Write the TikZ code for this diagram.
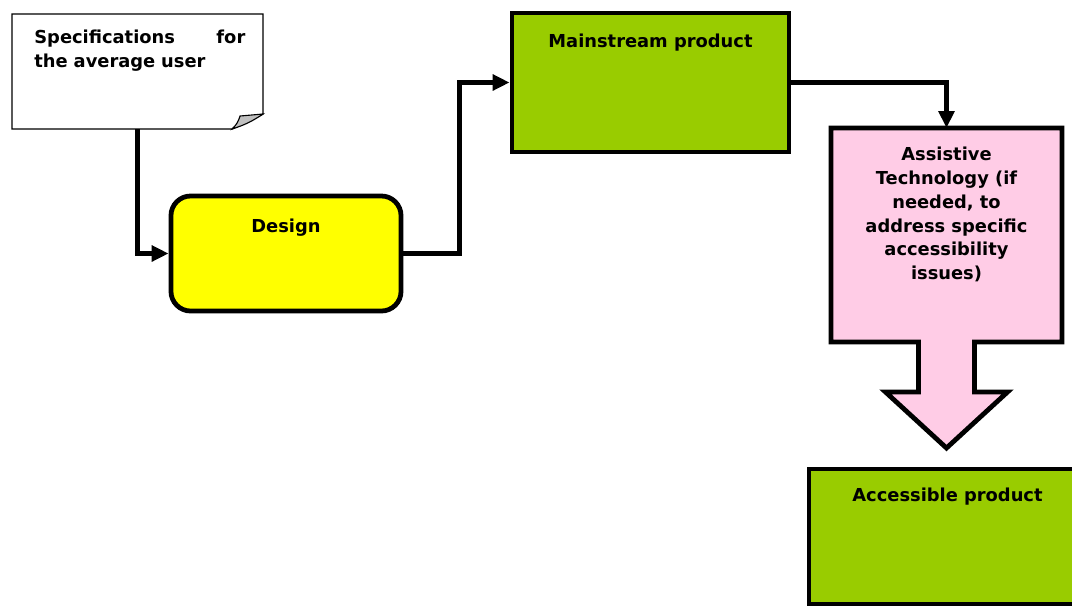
\documentclass[tikz,border=0pt]{standalone}
\usepackage{fontspec}
\setmainfont{DejaVu Sans}
\usetikzlibrary{arrows.meta, calc, backgrounds}

\definecolor{Leaf}{HTML}{99CC00}
\definecolor{Lemon}{HTML}{FFFF00}
\definecolor{Blush}{HTML}{FFCCE6}
\definecolor{Curl}{HTML}{C0C0C0}

\begin{document}
\begin{tikzpicture}[%
        x = 0.025cm,
        y = -0.025cm,
        line width = 3.4pt,
        line join = miter,
        font = \fontsize{12.7}{17}\selectfont\bfseries,
        box/.style = {rectangle, draw, minimum width = 6.925cm},
        box_text/.style = {anchor = base, inner sep = 0pt, yshift = -26pt},
        link/.style = {-{Triangle[length = 12pt, width = 11pt]}}
    ]
        \clip (0, 0) rectangle (1072, 606);

        % Coordinates for the centres of the boxes.
        \coordinate (Spec_Center) at (137.5, 71.5);
        \coordinate (Design_Center) at (286.0, 253.5);
        \coordinate (Main_Center) at (650.5, 82.5);
        \coordinate (Assist_Center) at (946.5, 235.0);
        \coordinate (Access_Center) at (947.5, 536.5);

        % Sheet of paper for the specifications.
        \node[minimum width = 6.275cm, minimum height = 2.875cm, outer sep = 0pt]
            (spec) at (Spec_Center) {};
        \draw[line width = 1pt, fill = white] (spec.north west)
            to (spec.north east)
            to ($(spec.south east) + (0, -15)$)
            to ($(spec.south east) + (-31, 0)$)
            to (spec.south west) -- cycle;
        \draw[line width = 0.8pt, fill = Curl] ($(spec.south east) + (-31, 0)$)
            to[bend right = 15] ($(spec.south east) + (-23, -13)$)
            to ($(spec.south east) + (0, -15)$)
            to[bend left = 8] cycle;
        \node[anchor = base west, text width = 150pt, align = left, inner sep = 0pt]
            (spec_text) at (32, 43.5) {Specifications \hfill for\\the average user};

        % Rounded yellow box for the design.
        \node[box, fill = Lemon, minimum width = 5.75cm, minimum height = 2.875cm,
            rounded corners = 14pt,
            label = {[box_text, yshift = -1.4pt]north:Design}]
            (design) at (Design_Center) {};

        % Green box for the mainstream product.
        \node[box, fill = Leaf, minimum height = 3.475cm,
            label = {[box_text]north:Mainstream product}]
            (main) at (Main_Center) {};

        % Pink box with the big arrow under it.
        \node[minimum width = 5.775cm, minimum height = 5.35cm, outer sep = 0pt,
            label = {[box_text, align = center, yshift = -82pt]north:Assistive\\Technology (if\\needed, to\\address specific\\accessibility\\issues)}]
            (assist) at (Assist_Center) {};
        \begin{scope}[on background layer]
            \draw[line width = 3.4pt, fill = Blush] (assist.north west)
                to (assist.north east)
                to (assist.south east)
                to ($(assist.south) + (28, 0)$)
                to ++(0, 50) to ++(33, 0)
                to ++(-61, 56) to ++(-61, -56)
                to ++(33, 0) to ++(0, -50)
                to (assist.south west) -- cycle;
        \end{scope}

        % Green box for the accessible product.
        \node[box, fill = Leaf, minimum height = 3.375cm,
            label = {[box_text, yshift = 1.4pt]north:Accessible product}]
            (access) at (Access_Center) {};

        % Connectors between the boxes.
        \draw[link] (spec.south) |- (design.west);
        \draw[link] (design.east) -- ++(56, 0) |- (main.west);
        \draw[link] (main.east) -| (assist.north);
    \end{tikzpicture}
\end{document}
